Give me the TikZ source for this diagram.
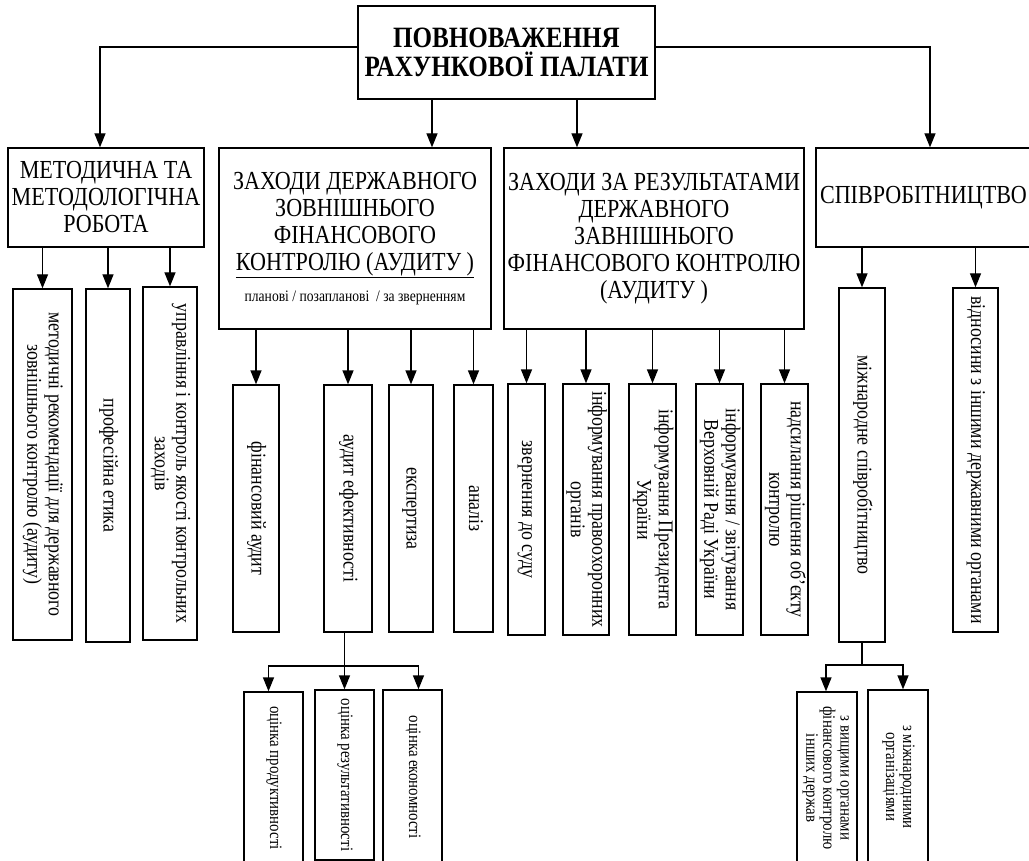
\documentclass[tikz,border=0pt]{standalone}
\usepackage{fontspec}
\setmainfont{Liberation Serif}[FakeStretch=0.85]
\usepackage{graphicx}
\usetikzlibrary{arrows.meta,calc}
\newcommand{\vt}[1]{\rotatebox{-90}{\begin{tabular}{@{}c@{}}#1\end{tabular}}}
\begin{document}
\begin{tikzpicture}[x=1pt,y=-1pt,
  box/.style={draw,line width=1.3pt,inner sep=0pt,align=center,font=\fontsize{26}{27}\selectfont},
  vbox/.style={draw,line width=1.3pt,inner sep=0pt,font=\fontsize{21}{21.5}\selectfont},
  sbox/.style={vbox,font=\fontsize{17.5}{17}\selectfont},
  conn/.style={line width=1.3pt},
  arr/.style={conn,-{Triangle[length=14pt,width=11pt]}}]
\useasboundingbox (0,0) rectangle (1029,861);
\clip (0,0) rectangle (1029,861);

% top
\node[box,minimum width=297,minimum height=93,font=\fontsize{29.5}{29}\selectfont\bfseries] (T) at (506.5,52.5) {ПОВНОВАЖЕННЯ\\РАХУНКОВОЇ ПАЛАТИ};

% level 1
\node[box,minimum width=196,minimum height=99] (M) at (106,197.5) {МЕТОДИЧНА ТА\\МЕТОДОЛОГІЧНА\\РОБОТА};
\node[box,minimum width=272,minimum height=181] (Z1) at (355,238.5) {ЗАХОДИ ДЕРЖАВНОГО\\ЗОВНІШНЬОГО\\ФІНАНСОВОГО\\\underline{КОНТРОЛЮ (АУДИТУ )}\\[4pt]{\fontsize{16}{16}\selectfont планові / позапланові~ / за зверненням}};
\node[box,minimum width=300,minimum height=181] (Z2) at (654,238.5) {ЗАХОДИ ЗА РЕЗУЛЬТАТАМИ\\ДЕРЖАВНОГО\\ЗАВНІШНЬОГО\\ФІНАНСОВОГО КОНТРОЛЮ\\(АУДИТУ )};
\node[box,minimum width=215,minimum height=99] (S) at (923.5,197.5) {СПІВРОБІТНИЦТВО};

% level 2 under M
\node[vbox,minimum width=59,minimum height=351] (m1) at (42.5,464.5) {\vt{методичні рекомендації для державного\\зовнішнього контролю (аудиту)}};
\node[vbox,minimum width=44,minimum height=353] (m2) at (108,465.5) {\vt{професійна етика}};
\node[vbox,minimum width=54,minimum height=353] (m3) at (170,463.5) {\vt{управління і контроль якості контрольних\\заходів}};

% level 2 under Z1
\node[vbox,minimum width=46,minimum height=247] (f1) at (256,508.5) {\vt{фінансовий аудит}};
\node[vbox,minimum width=48,minimum height=247] (f2) at (348,508.5) {\vt{аудит ефективності}};
\node[vbox,minimum width=44,minimum height=247] (f3) at (411,508.5) {\vt{експертиза}};
\node[vbox,minimum width=39,minimum height=247] (f4) at (473.5,508.5) {\vt{аналіз}};

% level 2 under Z2
\node[vbox,minimum width=37,minimum height=251] (r1) at (526.5,509.5) {\vt{звернення до суду}};
\node[vbox,minimum width=46,minimum height=251] (r2) at (586,509.5) {\vt{інформування правоохоронних\\органів}};
\node[vbox,minimum width=47,minimum height=251] (r3) at (652.5,509.5) {\vt{інформування Президента\\України}};
\node[vbox,minimum width=47,minimum height=251] (r4) at (719.5,509.5) {\vt{інформування / звітування\\Верховній Раді України}};
\node[vbox,minimum width=47,minimum height=251] (r5) at (784.5,509.5) {\vt{надсилання рішення об’єкту\\контролю}};

% level 2 under S
\node[vbox,minimum width=46,minimum height=354] (s1) at (862,465) {\vt{міжнародне співробітництво}};
\node[vbox,minimum width=45,minimum height=344] (s2) at (975.5,460) {\vt{відносини з іншими державними органами}};

% level 3
\node[sbox,minimum width=59,minimum height=172] (b1) at (273.5,778) {\vt{оцінка продуктивності}};
\node[sbox,minimum width=59,minimum height=170] (b2) at (344.5,775) {\vt{оцінка результативності}};
\node[sbox,minimum width=59,minimum height=174] (b3) at (412.5,777) {\vt{оцінка економності}};
\node[sbox,minimum width=60,minimum height=172] (c1) at (827,778) {\vt{з вищими органами\\фінансового контролю\\інших держав}};
\node[sbox,minimum width=60,minimum height=174] (c2) at (898,777) {\vt{з міжнародними\\організаціями}};

% connectors from top
\coordinate (k1) at (432,0);
\coordinate (k2) at (577,0);
\draw[arr] ([yshift=5.5pt]T.west) -| ([xshift=-6pt]M.north);
\draw[arr] ([yshift=5.5pt]T.east) -| ([xshift=6.5pt]S.north);
\draw[arr] (T.south -| k1) -- (Z1.north -| k1);
\draw[arr] (T.south -| k2) -- (Z2.north -| k2);

% M children
\foreach \n in {m1,m2,m3} \draw[arr] (M.south -| \n.north) -- (\n.north);
% Z1 children
\foreach \n in {f1,f2,f3,f4} \draw[arr] (Z1.south -| \n.north) -- (\n.north);
% Z2 children
\foreach \n in {r1,r2,r3,r4,r5} \draw[arr] (Z2.south -| \n.north) -- (\n.north);
% S children
\foreach \n in {s1,s2} \draw[arr] (S.south -| \n.north) -- (\n.north);

% f2 -> b
\coordinate (h1) at (0,666);
\draw[arr] (f2.south -| b2.north) -- (b2.north);
\draw[arr] (b2.north |- h1) -| ([xshift=-5pt]b1.north);
\draw[arr] (b2.north |- h1) -| ([xshift=6pt]b3.north);

% s1 -> c
\coordinate (h2) at (0,665);
\draw[conn] (s1.south) -- (s1.south |- h2);
\draw[arr] (s1.south |- h2) -| ([xshift=-1pt]c1.north);
\draw[arr] (s1.south |- h2) -| ([xshift=5pt]c2.north);
\end{tikzpicture}
\end{document}
